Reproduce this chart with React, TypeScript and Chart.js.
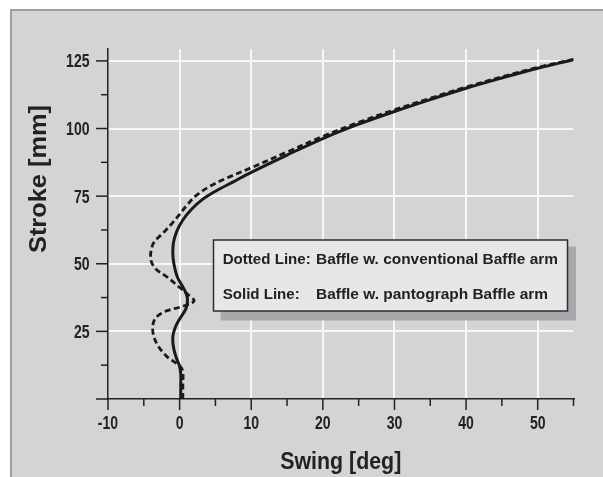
import React, { useEffect, useRef } from "react";
import { Chart, registerables } from "chart.js";

Chart.register(...registerables);

// ---- data (Stroke [mm] on y, Swing [deg] on x) ----
const solidStroke = [0, 5, 9.5, 12.5, 15.5, 19, 23, 26.5, 29.8, 33.5, 37, 40, 45, 50, 54, 58, 62, 66, 70, 73.8, 76.8, 80.3, 83.8, 90.2, 96.3, 101.6, 106.3, 110.7, 114.9, 118.7, 122.3, 125.4];
const solidSwing = [0.15, 0.15, 0.15, -0.05, -0.5, -0.85, -0.95, -0.6, 0.05, 0.9, 1.1, 0.75, -0.3, -0.8, -0.95, -0.85, -0.4, 0.4, 1.6, 3.2, 5.0, 7.5, 10, 15, 20, 25, 30, 35, 40, 45, 50, 55];

const dottedStroke = [0, 5, 10, 12, 14, 16, 20.5, 25.5, 29.8, 32.5, 34, 36.2, 39, 41.7, 45.2, 48.3, 52, 57.5, 61.4, 64.8, 68.3, 71.6, 75, 78.3, 81.6, 85.5, 91.3, 97.1, 102.3, 106.9, 111.2, 115.3, 119.1, 122.6, 125.6];
const dottedSwing = [0.45, 0.45, 0.45, 0.1, -0.9, -1.9, -3.2, -3.76, -3.4, -1.9, 0.1, 2.0, 1.0, -0.2, -1.8, -3.4, -4.04, -3.67, -2.3, -1.1, 0.0, 1.0, 2.2, 4.0, 6.5, 10, 15, 20, 25, 30, 35, 40, 45, 50, 55];

const xTickValues = [-10, -5, 0, 5, 10, 15, 20, 25, 30, 35, 40, 45, 50, 55];
const xTickLabels = ["-10", "", "0", "", "10", "", "20", "", "30", "", "40", "", "50", ""];
const yTickValues = [0, 12.5, 25, 37.5, 50, 62.5, 75, 87.5, 100, 112.5, 125];
const yTickLabels = ["", "", "25", "", "50", "", "75", "", "100", "", "125"];

const legendLabels = ["Dotted Line:", "Solid Line:"];
const legendTexts = ["Baffle w. conventional Baffle arm", "Baffle w. pantograph Baffle arm"];
const xTitle = "Swing [deg]";
const yTitle = "Stroke [mm]";

const INK = "#232122";
const LINE = "#1b191a";
const FONT = '"Liberation Sans", Arial, sans-serif';

function drawFit(
  ctx: CanvasRenderingContext2D,
  text: string,
  x: number,
  y: number,
  font: string,
  width: number,
  align: CanvasTextAlign,
  rotate = false
) {
  ctx.save();
  ctx.font = font;
  const w = ctx.measureText(text).width;
  ctx.translate(x, y);
  if (rotate) ctx.rotate(-Math.PI / 2);
  ctx.scale(width / w, 1);
  ctx.textAlign = align;
  ctx.textBaseline = "alphabetic";
  ctx.fillStyle = INK;
  ctx.fillText(text, 0, 0);
  ctx.restore();
}

function drawScaled(
  ctx: CanvasRenderingContext2D,
  text: string,
  x: number,
  y: number,
  font: string,
  sx: number,
  align: CanvasTextAlign
) {
  ctx.save();
  ctx.font = font;
  ctx.translate(x, y);
  ctx.scale(sx, 1);
  ctx.textAlign = align;
  ctx.textBaseline = "alphabetic";
  ctx.fillStyle = INK;
  ctx.fillText(text, 0, 0);
  ctx.restore();
}

const decorPlugin = {
  id: "decor",
  beforeDraw(chart: any) {
    const ctx: CanvasRenderingContext2D = chart.ctx;
    const W = chart.width;
    const H = chart.height;
    ctx.save();
    ctx.fillStyle = "#ffffff";
    ctx.fillRect(0, 0, W, H);
    ctx.fillStyle = "#d3d4d6";
    ctx.fillRect(11, 10, W - 11, H - 10);
    ctx.strokeStyle = "#9d9d9f";
    ctx.lineWidth = 2;
    ctx.beginPath();
    ctx.moveTo(11, H);
    ctx.lineTo(11, 10);
    ctx.lineTo(W, 10);
    ctx.stroke();
    ctx.restore();
  },
  afterDraw(chart: any) {
    const ctx: CanvasRenderingContext2D = chart.ctx;
    const xs = chart.scales.x;
    const ys = chart.scales.y;
    const area = chart.chartArea;
    ctx.save();
    ctx.strokeStyle = INK;
    ctx.lineWidth = 1.5;
    const tf = "bold 18px " + FONT;
    // tick marks and tick labels
    xs.ticks.forEach((t: any, i: number) => {
      const px = xs.getPixelForValue(t.value);
      const len = t.value % 10 === 0 ? 11 : 7;
      ctx.beginPath();
      ctx.moveTo(px, area.bottom);
      ctx.lineTo(px, area.bottom + len);
      ctx.stroke();
      const lab = xTickLabels[i];
      if (lab) drawScaled(ctx, lab, px, area.bottom + 29.5, tf, 0.78, "center");
    });
    ys.ticks.forEach((t: any, i: number) => {
      const py = ys.getPixelForValue(t.value);
      const len = t.value % 25 === 0 ? 12 : 7;
      ctx.beginPath();
      ctx.moveTo(area.left, py);
      ctx.lineTo(area.left - len, py);
      ctx.stroke();
      const lab = yTickLabels[i];
      if (lab) drawScaled(ctx, lab, area.left - 18.5, py + 6.5, tf, 0.78, "right");
    });
    ctx.restore();

    // axis titles
    drawFit(ctx, xTitle, (area.left + area.right) / 2, 468.5, "bold 23px " + FONT, 121, "center");
    drawFit(ctx, yTitle, 45.5, 179, "bold 24px " + FONT, 148, "center", true);

    // legend box
    ctx.save();
    ctx.fillStyle = "#a8a9ac";
    ctx.fillRect(220.5, 246.5, 355.5, 74);
    ctx.fillStyle = "#e7e7e8";
    ctx.fillRect(213.5, 240, 354, 71);
    ctx.strokeStyle = "#2f2d2e";
    ctx.lineWidth = 1.5;
    ctx.strokeRect(213.5, 240, 354, 71);
    ctx.restore();
    const lf = "bold 14px " + FONT;
    drawFit(ctx, legendLabels[0], 222.7, 264.3, lf, 88, "left");
    drawFit(ctx, legendTexts[0], 316, 264.3, lf, 242, "left");
    drawFit(ctx, legendLabels[1], 222.7, 299, lf, 77, "left");
    drawFit(ctx, legendTexts[1], 316, 299, lf, 232, "left");
  },
};

export default function App() {
  const ref = useRef<HTMLCanvasElement | null>(null);
  useEffect(() => {
    if (!ref.current) return;
    const solid = solidSwing.map((x, i) => ({ x, y: solidStroke[i] }));
    const dotted = dottedSwing.map((x, i) => ({ x, y: dottedStroke[i] }));
    const chart = new Chart(ref.current, {
      type: "line",
      data: {
        datasets: [
          {
            label: "Dotted Line",
            data: dotted,
            borderColor: LINE,
            borderWidth: 2.8,
            borderDash: [6, 3.5],
            pointRadius: 0,
            tension: 0.35,
            fill: false,
          },
          {
            label: "Solid Line",
            data: solid,
            borderColor: LINE,
            borderWidth: 3,
            pointRadius: 0,
            tension: 0.35,
            fill: false,
          },
        ],
      },
      plugins: [decorPlugin],
      options: {
        animation: false,
        responsive: false,
        devicePixelRatio: 1,
        layout: { padding: { left: 0, top: 49, right: 29.5, bottom: 0 } },
        plugins: { legend: { display: false }, tooltip: { enabled: false } },
        scales: {
          x: {
            type: "linear",
            min: -10,
            max: 55,
            afterBuildTicks: (s: any) => {
              s.ticks = xTickValues.map((v) => ({ value: v }));
            },
            afterFit: (s: any) => {
              s.height = 78;
            },
            ticks: { display: false, autoSkip: false, maxRotation: 0 },
            grid: {
              color: (c: any) => (c.tick && c.tick.value % 10 === 0 && c.tick.value > -10 ? "#f7f7f7" : "rgba(0,0,0,0)"),
              lineWidth: 2,
              drawTicks: false,
            },
            border: { display: true, color: INK, width: 1.5 },
          },
          y: {
            type: "linear",
            min: 0,
            max: 129.4,
            afterBuildTicks: (s: any) => {
              s.ticks = yTickValues.map((v) => ({ value: v }));
            },
            afterFit: (s: any) => {
              s.width = 108;
            },
            ticks: { display: false, autoSkip: false },
            grid: {
              color: (c: any) => (c.tick && c.tick.value % 25 === 0 && c.tick.value > 0 ? "#f7f7f7" : "rgba(0,0,0,0)"),
              lineWidth: 2,
              drawTicks: false,
            },
            border: { display: true, color: INK, width: 1.5 },
          },
        },
      },
    });
    return () => chart.destroy();
  }, []);
  return (
    <div style={{ position: "absolute", left: 0, top: 0, width: 603, height: 477 }}>
      <canvas ref={ref} width={603} height={477} style={{ display: "block", width: 603, height: 477 }} />
    </div>
  );
}
